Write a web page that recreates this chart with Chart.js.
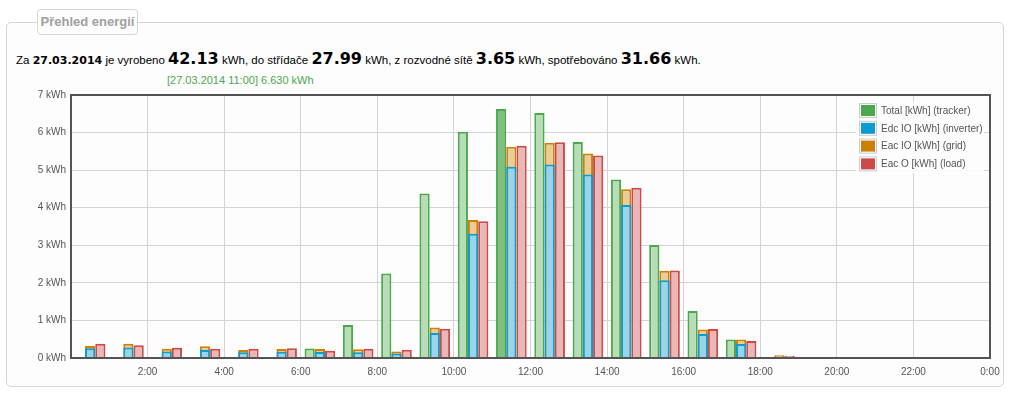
<!DOCTYPE html>
<html>
<head>
<meta charset="utf-8">
<script src="https://cdn.jsdelivr.net/npm/chart.js@4"></script>
<style>
  body { margin: 0; background: #fff; font-family: 'Liberation Sans', Arial, sans-serif; }
  #box { position: absolute; left: 6px; top: 22px; width: 996px; height: 363px; border: 1px solid #d6d6d6; border-radius: 5px; background: #fdfdfd; }
  #boxTitle { position: absolute; left: 37px; top: 9px; width: 99px; height: 24px; border: 1px solid #d6d6d6; border-radius: 4px; background: #fdfdfd;
    color: #a0a0a0; font: bold 13px 'Liberation Sans', Arial, sans-serif; text-align: center; line-height: 24px; }
  #summary { position: absolute; left: 16px; top: 49px; font-size: 11.5px; color: #000; white-space: nowrap; }
  #summary b { font: bold 11px 'DejaVu Sans', sans-serif; }
  #summary b.big { font-size: 16px; }
  #hover { position: absolute; left: 167px; top: 74px; color: #4da74d; font-size: 11px; white-space: nowrap; }
  #wrap { position: absolute; left: 0; top: 84px; width: 1012px; height: 304px; }
</style>
</head>
<body>
<div id="box"></div>
<div id="boxTitle">Přehled energií</div>
<div id="summary">Za <b>27.03.2014</b> je vyrobeno <b class="big">42.13</b> kWh, do střídače <b class="big">27.99</b> kWh, z rozvodné sítě <b class="big">3.65</b> kWh, spotřebováno <b class="big">31.66</b> kWh.</div>
<div id="hover">[27.03.2014 11:00] 6.630 kWh</div>
<div id="wrap"><canvas id="energyChart" width="1012" height="304"></canvas></div>
<script>
// hourly values, 0:00 .. 23:00 (kWh)
const hours = [0, 1, 2, 3, 4, 5, 6, 7, 8, 9, 10, 11, 12, 13, 14, 15, 16, 17, 18, 19, 20, 21, 22, 23];
const totalTracker = [null, null, null, null, null, null, 0.25, 0.88, 2.25, 4.38, 6.02, 6.63, 6.52, 5.75, 4.75, 3.01, 1.25, 0.49, null, null, null, null, null, null];
const edcInverter = [0.26, 0.28, 0.17, 0.21, 0.15, 0.165, 0.16, 0.15, 0.12, 0.665, 3.31, 5.09, 5.15, 4.885, 4.07, 2.07, 0.64, 0.37, 0.03, null, null, null, null, null];
const eacGrid = [0.32, 0.38, 0.245, 0.31, 0.21, 0.24, 0.24, 0.23, 0.17, 0.815, 3.67, 5.62, 5.73, 5.44, 4.49, 2.32, 0.76, 0.49, 0.07, null, null, null, null, null];
const eacLoad = [0.38, 0.34, 0.27, 0.245, 0.245, 0.26, 0.19, 0.245, 0.22, 0.78, 3.64, 5.65, 5.74, 5.39, 4.53, 2.33, 0.77, 0.455, 0.06, null, null, null, null, null];
const highlightHour = 11;

const xTickLabels = ["2:00", "4:00", "6:00", "8:00", "10:00", "12:00", "14:00", "16:00", "18:00", "20:00", "22:00", "0:00"];
const yTickLabels = ["0 kWh", "1 kWh", "2 kWh", "3 kWh", "4 kWh", "5 kWh", "6 kWh", "7 kWh"];

const series = (values) => hours.map((h, i) => ({ x: h + 0.5, y: values[i] }));

Chart.defaults.font.family = "'Liberation Sans', Arial, sans-serif";
Chart.defaults.font.size = 10;
Chart.defaults.color = "#545454";

//legend drawn inside the plot, top right
const insideLegend = {
  id: "insideLegend",
  afterDatasetsDraw(chart) {
    const ctx = chart.ctx;
    const area = chart.chartArea;
    const x = area.right - 131;
    const y = area.top + 16;
    ctx.save();
    ctx.fillStyle = "rgba(253,253,253,0.9)";
    ctx.fillRect(x - 3, y - 9, 128, 71);
    chart.data.datasets.forEach((ds, i) => {
      const cy = y + i * 17.8;
      ctx.strokeStyle = "#cccccc";
      ctx.lineWidth = 1;
      ctx.strokeRect(x + 0.5, cy - 7.5, 17, 14);
      ctx.fillStyle = ds.legendColor;
      ctx.fillRect(x + 2, cy - 6, 14, 11);
      ctx.fillStyle = "#545454";
      ctx.font = "10px 'Liberation Sans', Arial, sans-serif";
      ctx.textBaseline = "middle";
      ctx.fillText(ds.label, x + 22, cy);
    });
    ctx.restore();
  }
};

//thick frame round the plot
const plotFrame = {
  id: "plotFrame",
  afterDatasetsDraw(chart) {
    const a = chart.chartArea;
    const ctx = chart.ctx;
    ctx.save();
    ctx.strokeStyle = "#545454";
    ctx.lineWidth = 2;
    ctx.strokeRect(a.left, a.top, a.right - a.left, a.bottom - a.top);
    ctx.restore();
  }
};

const greenFill = hours.map((h) => (h === highlightHour ? "rgb(128,191,128)" : "rgb(184,220,184)"));

new Chart(document.getElementById("energyChart"), {
  type: "bar",
  data: {
    datasets: [
      { label: "Total [kWh] (tracker)", data: series(totalTracker), stack: "a",
        backgroundColor: greenFill, borderColor: "#4da74d", legendColor: "#4da74d" },
      { label: "Edc IO [kWh] (inverter)", data: series(edcInverter), stack: "b",
        backgroundColor: "rgb(153,212,234)", borderColor: "#0e9bcf", legendColor: "#0e9bcf" },
      { label: "Eac IO [kWh] (grid)", data: series(eacGrid), stack: "b",
        backgroundColor: "rgb(234,204,156)", borderColor: "#cc8005", legendColor: "#cc8005" },
      { label: "Eac O [kWh] (load)", data: series(eacLoad), stack: "c",
        backgroundColor: "rgb(234,183,183)", borderColor: "#cb4b4b", legendColor: "#cb4b4b" }
    ]
  },
  options: {
    responsive: false,
    animation: false,
    devicePixelRatio: 1,
    events: [],
    layout: { padding: { top: 6, right: 22, left: 0, bottom: 0 } },
    datasets: {
      bar: { borderWidth: 2, borderSkipped: "start", categoryPercentage: 0.8, barPercentage: 1 }
    },
    plugins: { legend: { display: false }, tooltip: { enabled: false } },
    scales: {
      x: {
        type: "linear", min: 0, max: 24, stacked: true, offset: false,
        grid: { color: "#d4d4d4", drawTicks: false, offset: false },
        border: { display: false },
        ticks: {
          stepSize: 2, padding: 8, maxRotation: 0, autoSkip: false,
          callback: (v) => (v === 0 ? null : xTickLabels[v / 2 - 1])
        },
        afterFit: (s) => { s.height = 30; }
      },
      y: {
        min: 0, max: 7, stacked: false,
        grid: { color: "#d4d4d4", drawTicks: false },
        border: { display: false },
        ticks: { stepSize: 1, padding: 5, callback: (v) => yTickLabels[v] },
        afterFit: (s) => { s.width = 71; }
      }
    }
  },
  plugins: [plotFrame, insideLegend]
});
</script>
</body>
</html>
